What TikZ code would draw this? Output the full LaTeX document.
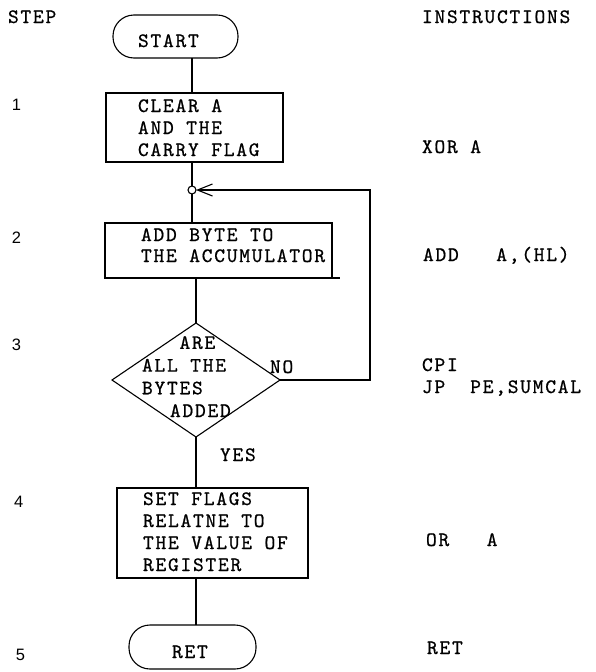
\documentclass[tikz,border=0pt]{standalone}
\usepackage{fontspec}
\usetikzlibrary{shapes.geometric,arrows.meta}
\newfontfamily\digfnt{Liberation Sans}
\newfontfamily\mymono[LetterSpace=8.5, FakeBold=0.7]{lmmono10-regular.otf}
\begin{document}
\begin{tikzpicture}[x=1pt,y=-1pt,
  every node/.style={inner sep=0pt, outer sep=0pt},
  txt/.style={font=\mymono\fontsize{20.5}{22}\selectfont, anchor=base west, align=left},
  num/.style={font=\digfnt\fontsize{16.5}{18}\selectfont, anchor=base west},
  flow/.style={draw, line width=1.1pt},
  box/.style={flow, rectangle},
  term/.style={flow, rectangle, rounded corners=21pt},
  conn/.style={line width=1.1pt},
  barb/.style={-{Straight Barb[length=15pt,width=12pt,line width=1.1pt]}}]
\fill[white, use as bounding box] (0,0) rectangle (595,672);

% column headings and step numbers
\node[txt] (step) at (8,23) {STEP};
\node[txt] (hdr) at (422,23) {INSTRUCTIONS};
\node[num] (n1) at (12,110) {1};
\node[num] (n2) at (12,243) {2};
\node[num] (n3) at (12,350) {3};
\node[num] (n4) at (14,507) {4};
\node[num] (n5) at (16,660) {5};

% instructions (multi-line nodes are placed by the baseline of their last line)
\node[txt] (i1) at (422,153) {XOR\hspace{12.5pt}A};
\node[txt] (i2) at (423,261) {ADD\hspace{37.5pt}A,(HL)};
\node[txt] (i3) at (422,393) {CPI\\JP\hspace{25pt}PE,SUMCAL};
\node[txt] (i4) at (426,546) {OR\hspace{37.5pt}A};
\node[txt] (i5) at (427,654) {RET};

% flowchart shapes
\node[term, minimum width=125pt, minimum height=43pt] (start) at (175.5,36.5) {};
\node[txt] (startt) at (138,47) {START};

\node[box, minimum width=177pt, minimum height=69pt] (b1) at (194.5,127.5) {};
\node[txt] (b1t) at (138,156) {CLEAR\hspace{12.5pt}A\\AND\hspace{12.5pt}THE\\CARRY\hspace{12.5pt}FLAG};

\node[flow, circle, minimum size=8pt] (jn) at (192,190) {};

\node[box, minimum width=227pt, minimum height=55pt] (b2) at (218.5,250.5) {};
\node[txt, font=\mymono\fontsize{20.5}{21}\selectfont] (b2t) at (141,262) {ADD\hspace{12.5pt}BYTE\hspace{12.5pt}TO\\THE\hspace{12.5pt}ACCUMULATOR};

\node[flow, diamond, aspect=1.47, minimum width=168pt, minimum height=114pt] (dia) at (196,380) {};
\node[txt, font=\mymono\fontsize{20.5}{22.7}\selectfont] (diat) at (142,417) {\hspace*{37.5pt}ARE\\ALL\hspace{12.5pt}THE\\BYTES\\\hspace*{28pt}ADDED};
\node[txt] (no) at (270,373) {NO};
\node[txt] (yes) at (220,461) {YES};

\node[box, minimum width=191pt, minimum height=90pt] (b4) at (212.5,533) {};
\node[txt] (b4t) at (143,571) {SET\hspace{12.5pt}FLAGS\\RELATNE\hspace{12.5pt}TO\\THE\hspace{12.5pt}VALUE\hspace{12.5pt}OF\\REGISTER};

\node[term, minimum width=127pt, minimum height=44pt] (ret) at (192.5,647) {};
\node[txt] (rett) at (172,658) {RET};

% connectors
\coordinate (lb) at (370,380);
\coordinate (lt) at (370,190);
\draw[conn] (start.south -| jn) -- (b1.north -| jn);
\draw[conn] (b1.south -| jn) -- (jn.north);
\draw[conn] (jn.south) -- (b2.north -| jn);
\draw[conn] (b2.south -| dia) -- (dia.north);
\draw[conn] (b2.south east) -- ++(8,0);
\draw[conn] (dia.south) -- (b4.north -| dia);
\draw[conn] (b4.south -| dia) -- (ret.north -| dia);
\draw[conn, barb] (dia.east) -- (lb) -- (lt) -- (jn.east);
\end{tikzpicture}
\end{document}
